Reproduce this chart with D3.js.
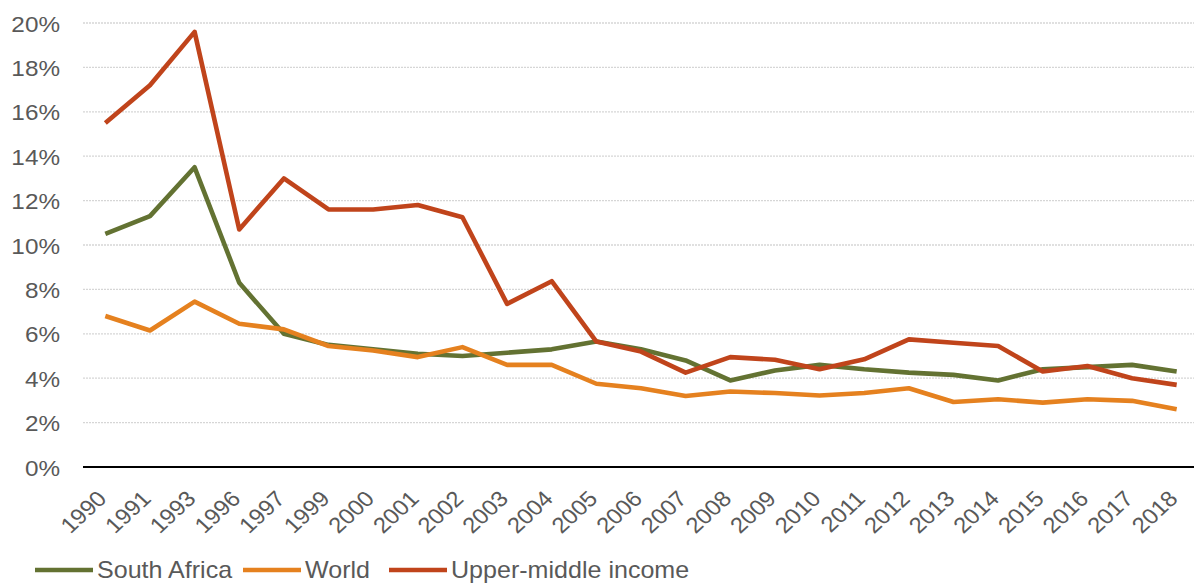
<!DOCTYPE html>
<html>
<head>
<meta charset="utf-8">
<script src="https://cdn.jsdelivr.net/npm/d3@7"></script>
<style>
  html, body { margin: 0; padding: 0; background: #fff; }
  svg { display: block; font-family: "Liberation Sans", Arial, sans-serif; }
</style>
</head>
<body>
<div id="chart"></div>
<script>
  /* Categories */
  var years = ["1990", "1991", "1993", "1996", "1997", "1999", "2000", "2001", "2002", "2003",
    "2004", "2005", "2006", "2007", "2008", "2009", "2010", "2011", "2012", "2013",
    "2014", "2015", "2016", "2017", "2018"];

  /* Series values (%) */
  var southAfrica = [10.5, 11.3, 13.5, 8.3, 6.0, 5.5, 5.3, 5.1, 5.0, 5.15,
    5.3, 5.65, 5.3, 4.8, 3.9, 4.35, 4.6, 4.4, 4.25, 4.15,
    3.9, 4.4, 4.5, 4.6, 4.3];
  var world = [6.8, 6.15, 7.45, 6.45, 6.2, 5.45, 5.25, 4.95, 5.4, 4.6,
    4.6, 3.75, 3.55, 3.2, 3.4, 3.33, 3.22, 3.33, 3.55, 2.93,
    3.05, 2.9, 3.05, 2.98, 2.6];
  var upperMiddle = [15.5, 17.2, 19.6, 10.7, 13.0, 11.6, 11.6, 11.8, 11.25, 7.35,
    8.37, 5.65, 5.2, 4.25, 4.95, 4.83, 4.4, 4.85, 5.75, 5.6,
    5.45, 4.3, 4.55, 4.0, 3.7];

  var seriesNames = ["South Africa", "World", "Upper-middle income"];
  var seriesColors = ["#637232", "#E5811F", "#C0441B"];
  var yTicks = [0, 2, 4, 6, 8, 10, 12, 14, 16, 18, 20];

  var W = 1194, H = 583;
  var ml = 83, mr = -5, mt = 23, bottom0 = 467;
  var textCol = "#595959";
  var stretch = 1.08;   // source text is slightly wider than Arial

  var svg = d3.select("#chart").append("svg")
    .attr("width", W).attr("height", H)
    .style("background", "#fff");

  var x = d3.scalePoint().domain(years).range([ml, W - mr]).padding(0.5);
  var y = d3.scaleLinear().domain([0, 20]).range([bottom0, mt]);

  /* Gridlines */
  svg.append("g").selectAll("line")
    .data(yTicks.filter(function (d) { return d > 0; }))
    .join("line")
    .attr("x1", ml).attr("x2", W)
    .attr("y1", function (d) { return y(d); })
    .attr("y2", function (d) { return y(d); })
    .attr("stroke", "#d6d6d6").attr("stroke-width", 1.3)
    .attr("stroke-dasharray", "2,1");

  /* Y axis labels */
  var yAxis = d3.axisLeft(y).tickValues(yTicks).tickSize(0).tickPadding(0)
    .tickFormat(function (d) { return d + "%"; });
  var gy = svg.append("g").attr("transform", "translate(60,0)").call(yAxis);
  gy.select(".domain").remove();
  gy.selectAll("text")
    .attr("fill", textCol).attr("font-size", 22.5)
    .attr("font-family", "Liberation Sans, Arial, sans-serif")
    .attr("x", 0).attr("dy", "0.36em")
    .attr("transform", "scale(" + stretch + ",1)");

  /* Lines */
  var allSeries = [southAfrica, world, upperMiddle];
  var line = d3.line()
    .x(function (d, i) { return x(years[i]); })
    .y(function (d) { return y(d); });

  allSeries.forEach(function (vals, k) {
    svg.append("path")
      .datum(vals)
      .attr("fill", "none")
      .attr("stroke", seriesColors[k])
      .attr("stroke-width", 4.6)
      .attr("stroke-linejoin", "round")
      .attr("d", line);
  });

  /* X axis */
  var xAxis = d3.axisBottom(x).tickSize(0).tickPadding(0);
  var gx = svg.append("g").attr("transform", "translate(0," + bottom0 + ")").call(xAxis);
  gx.select(".domain").remove();
  gx.selectAll("text")
    .attr("fill", textCol).attr("font-size", 22)
    .attr("font-family", "Liberation Sans, Arial, sans-serif")
    .attr("x", 0).attr("y", 0).attr("dy", 0)
    .attr("text-anchor", "end")
    .attr("transform", "translate(2,33) scale(" + stretch + ",1) rotate(-45)");

  svg.append("line")
    .attr("x1", ml).attr("x2", W)
    .attr("y1", y(0)).attr("y2", y(0))
    .attr("stroke", "#000").attr("stroke-width", 2.2);

  /* Legend */
  var legendX = [35, 243, 389];
  var legend = svg.append("g");
  seriesNames.forEach(function (name, k) {
    legend.append("line")
      .attr("x1", legendX[k]).attr("x2", legendX[k] + 58)
      .attr("y1", 570).attr("y2", 570)
      .attr("stroke", seriesColors[k]).attr("stroke-width", 4.6);
    legend.append("text")
      .attr("transform", "translate(" + (legendX[k] + 62) + ",578) scale(1.09,1)")
      .attr("fill", textCol).attr("font-size", 23)
      .text(name);
  });
</script>
</body>
</html>
